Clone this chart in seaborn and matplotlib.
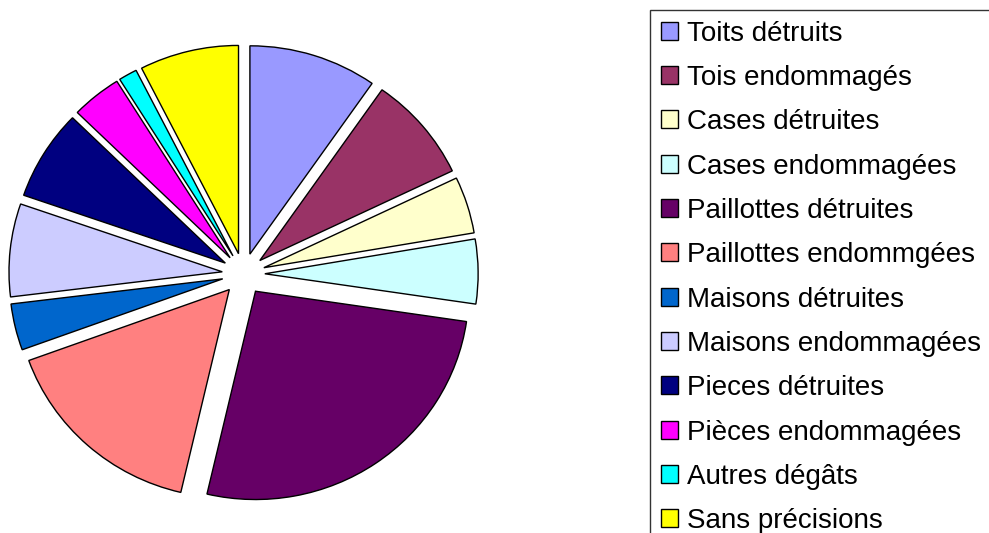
import matplotlib
matplotlib.use("Agg")
import matplotlib.pyplot as plt
import seaborn as sns

# Données (parts estimées en %)
categories = ["Toits détruits", "Tois endommagés", "Cases détruites", "Cases endommagées",
              "Paillottes détruites", "Paillottes endommgées", "Maisons détruites",
              "Maisons endommagées", "Pieces détruites", "Pièces endommagées",
              "Autres dégâts", "Sans précisions"]
values = [9.7, 8.2, 4.4, 5.0, 26.3, 15.8, 3.6, 7.2, 7.0, 3.8, 1.4, 7.5]
colors = ["#9999FF", "#993366", "#FFFFCC", "#CCFFFF", "#660066", "#FF8080",
          "#0066CC", "#CCCCFF", "#000080", "#FF00FF", "#00FFFF", "#FFFF00"]

sns.set_theme(style="white")
plt.rcParams['font.family'] = ['Liberation Sans', 'DejaVu Sans']
palette = sns.color_palette(colors)

W, H = 989, 533
fig = plt.figure(figsize=(W / 100, H / 100), dpi=100)
fig.patch.set_facecolor("white")

# Camembert (légèrement elliptique comme l'original)
Rx, Ry = 213.3, 208.3
cx, cy = 243.5, H - 274.0
ax = fig.add_axes([0, 0, 2 * cx / W, 1])
wedges, _ = ax.pie(values, colors=palette, startangle=90, counterclock=False,
                   explode=[0.1] * len(values),
                   wedgeprops=dict(edgecolor="black", linewidth=1.0))
ax.set_xlim(-cx / Rx, cx / Rx)
ax.set_ylim(-cy / Ry, (H - cy) / Ry)
ax.set_aspect("auto")
ax.axis("off")

# Légende
leg = fig.legend(wedges, categories, loc="upper left",
                 bbox_to_anchor=(650 / W, 1 - 10 / H), bbox_transform=fig.transFigure,
                 fontsize=20, frameon=True, fancybox=False, borderaxespad=0,
                 borderpad=0.38, handlelength=0.62, handleheight=0.62,
                 handletextpad=0.34, labelspacing=0.66, labelcolor="black")
leg.get_frame().set_edgecolor("black")
leg.get_frame().set_linewidth(1.0)

fig.savefig("out.png", dpi=100)
